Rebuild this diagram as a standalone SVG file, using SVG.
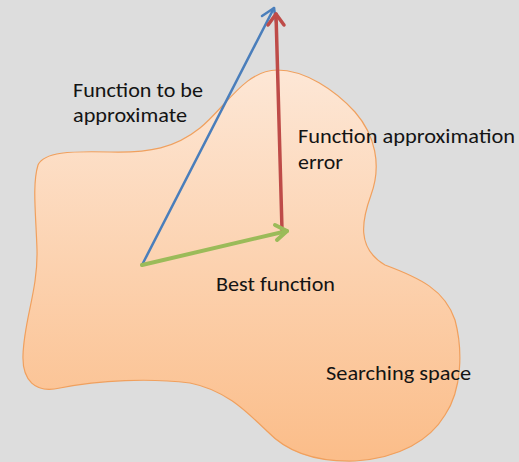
<svg xmlns="http://www.w3.org/2000/svg" width="519" height="462" viewBox="0 0 519 462">
<style>
.lbl{font-family:Calibri,Carlito,"Open Sans","Liberation Sans",sans-serif;font-size:21px;fill:#141414}
.arr{fill:none;stroke-linecap:round;stroke-linejoin:round}
</style>
<defs>
<linearGradient id="g" x1="0" y1="0" x2="0" y2="1">
<stop offset="0" stop-color="#fde7d6"/>
<stop offset="1" stop-color="#fbbd89"/>
</linearGradient>
</defs>
<rect width="519" height="462" fill="#dddddd"/>
<g id="searching-space">
<path d="M277,70 C305,70 335,90 355,112 C375,135 382,165 371,195 C362,220 356,248 385,265 C420,278 445,290 455,320 C463,350 462,390 445,415 C430,440 400,458 355,461 C320,462 290,455 268,432 C245,410 225,390 190,383 C150,378 100,380 60,388 C35,394 22,380 23,355 C24,320 38,290 37,250 C36,215 32,185 38,165 C44,152 70,151 110,152 C150,153 175,148 200,128 C225,108 245,70 277,70 Z" fill="url(#g)" stroke="#f0a05e" stroke-width="1.2"/>
<text class="lbl" x="326" y="380" textLength="145" lengthAdjust="spacingAndGlyphs">Searching space</text>
</g>
<g id="connectors">
<g id="blue-arrow">
<line class="arr" x1="142" y1="265" x2="274" y2="8" stroke="#4a7ebb" stroke-width="2.5"/>
<polyline class="arr" points="262,16 274,8 276,22" stroke="#4a7ebb" stroke-width="2.5"/>
</g>
<g id="red-arrow">
<line class="arr" x1="282" y1="230" x2="276" y2="14" stroke="#be4b48" stroke-width="3.5"/>
<polyline class="arr" points="268,25 276,14 284,25" stroke="#be4b48" stroke-width="3.5"/>
</g>
<g id="green-arrow">
<line class="arr" x1="142" y1="265" x2="287" y2="231" stroke="#9bbb59" stroke-width="4"/>
<polyline class="arr" points="275,225 287,231 277,240" stroke="#9bbb59" stroke-width="4"/>
</g>
</g>
<g id="label-target">
<text class="lbl" x="73" y="97" textLength="130" lengthAdjust="spacingAndGlyphs">Function to be</text>
<text class="lbl" x="73" y="122" textLength="114" lengthAdjust="spacingAndGlyphs">approximate</text>
</g>
<g id="label-error">
<text class="lbl" x="298" y="143" textLength="217" lengthAdjust="spacingAndGlyphs">Function approximation</text>
<text class="lbl" x="298" y="169" textLength="45" lengthAdjust="spacingAndGlyphs">error</text>
</g>
<g id="label-best">
<text class="lbl" x="216" y="291" textLength="119" lengthAdjust="spacingAndGlyphs">Best function</text>
</g>
</svg>
